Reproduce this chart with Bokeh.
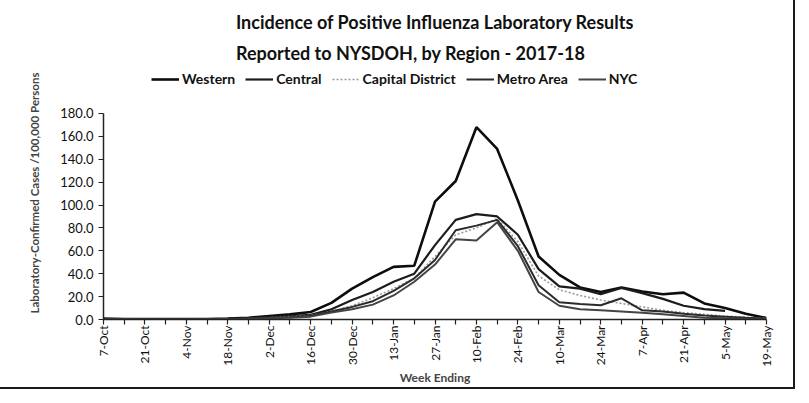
import math
from bokeh.plotting import figure
from bokeh.models import Range1d, FixedTicker, Legend, LegendItem
from bokeh.embed import file_html
from bokeh.resources import INLINE

nan = float("nan")

weeks = ["7-Oct", "14-Oct", "21-Oct", "28-Oct", "4-Nov", "11-Nov", "18-Nov", "25-Nov",
         "2-Dec", "9-Dec", "16-Dec", "23-Dec", "30-Dec", "6-Jan", "13-Jan", "20-Jan",
         "27-Jan", "3-Feb", "10-Feb", "17-Feb", "24-Feb", "3-Mar", "10-Mar", "17-Mar",
         "24-Mar", "31-Mar", "7-Apr", "14-Apr", "21-Apr", "28-Apr", "5-May", "12-May", "19-May"]

western = [0.8, 0.5, 0.4, 0.3, 0.3, 0.5, 0.8, 1.5, 3.0, 4.5, 6.5, 14.5, 27.0, 37.0, 46.0, 47.0,
           103.0, 121.0, 168.0, 149.0, 104.0, 55.0, 39.0, 28.0, 24.0, 28.0, 24.5, 22.0, 23.5,
           14.0, 10.0, 5.0, 1.2]
central = [0.3, 0.3, 0.2, 0.2, 0.3, 0.4, 0.6, 1.0, 2.0, 3.0, 4.0, 9.0, 17.0, 24.0, 33.0, 40.0,
           65.0, 87.0, 92.0, 90.0, 74.0, 44.0, 29.0, 27.0, 22.0, 27.5, 23.0, 18.0, 12.0,
           9.0, 7.5, nan, nan]
capital = [0.2, 0.2, 0.2, 0.2, 0.2, 0.3, 0.5, 0.8, 1.5, 2.5, 3.5, 7.0, 12.0, 19.0, 27.0, 36.0,
           55.0, 74.0, 80.0, 88.0, 68.0, 38.0, 26.0, 21.0, 17.0, 14.0, 11.0, 8.0, 6.0,
           4.5, 3.0, 2.0, 1.0]
metro = [0.3, 0.2, 0.2, 0.2, 0.2, 0.3, 0.5, 0.8, 1.5, 2.0, 3.0, 7.0, 11.0, 16.0, 25.0, 36.0,
         52.0, 78.0, 82.0, 87.0, 64.0, 30.0, 15.0, 13.5, 12.5, 18.5, 8.0, 7.0, 5.0,
         3.5, 2.5, 1.5, 0.8]
nyc = [0.2, 0.2, 0.1, 0.1, 0.1, 0.2, 0.3, 0.5, 1.0, 1.5, 2.5, 6.0, 9.0, 13.0, 21.0, 33.0,
       48.0, 70.0, 69.0, 85.0, 60.0, 24.0, 12.0, 9.0, 8.0, 7.0, 6.0, 4.5, 3.0,
       1.5, 1.0, 0.5, 0.3]

series_names = ["Western", "Central", "Capital District", "Metro Area", "NYC"]
title_lines = ["Incidence of Positive Influenza Laboratory Results",
               "Reported to NYSDOH, by Region - 2017-18"]
y_ticks = [0, 20, 40, 60, 80, 100, 120, 140, 160, 180]
Y_MAX = 180
Y_TOP = 221  # headroom above the y axis for the legend row

FONT = "Lato"
x = list(range(len(weeks)))

p = figure(width=793, height=387, output_backend="svg", toolbar_location=None,
           x_range=Range1d(0, len(weeks) - 1), y_range=Range1d(0, Y_TOP),
           title="\n".join(title_lines),
           min_border_left=103, min_border_right=27, min_border_top=66, min_border_bottom=66)
p.styles = {"outline": "2px solid #1a1a1a", "outline-offset": "0px"}

p.title.align = "center"
p.title.text_font = FONT
p.title.text_font_size = "18px"
p.title.text_font_style = "bold"
p.title.text_color = "#111111"
p.title.text_line_height = 1.42
p.title.standoff = 4

p.xgrid.visible = False
p.ygrid.visible = False
p.outline_line_color = None
p.background_fill_color = "white"
p.border_fill_color = "white"

styles = [
    dict(color="#0d0d0d", line_width=2.6),
    dict(color="#1c1c1c", line_width=2.2),
    dict(color="#9a9a9a", line_width=1.6, line_dash="2 2"),
    dict(color="#2b2b2b", line_width=2.0),
    dict(color="#444444", line_width=2.0),
]
renderers = []
for data, st in zip([western, central, capital, metro, nyc], styles):
    r = p.line(x, data, **st)
    renderers.append(r)

legend = Legend(items=[LegendItem(label=n, renderers=[r]) for n, r in zip(series_names, renderers)],
                orientation="horizontal", location=(46, 230),
                label_text_font=FONT, label_text_font_size="14px", label_text_font_style="bold",
                label_text_color="#111111", glyph_width=28, glyph_height=12, spacing=10,
                label_standoff=3, border_line_alpha=0, background_fill_alpha=0, padding=2, margin=0)
p.add_layout(legend, "center")

# axes
p.xaxis.ticker = FixedTicker(ticks=x)
p.xaxis.major_label_overrides = {i: (w if i % 2 == 0 else "") for i, w in enumerate(weeks)}
p.xaxis.major_label_orientation = math.pi / 2
p.xaxis.minor_tick_line_color = None
p.xaxis.major_tick_out = 5
p.xaxis.major_tick_in = 0
p.xaxis.axis_label = "Week Ending"
p.xaxis.axis_label_text_font = FONT
p.xaxis.axis_label_text_font_size = "12px"
p.xaxis.axis_label_text_font_style = "bold"
p.xaxis.axis_label_standoff = 0
p.xaxis.major_label_text_font = FONT
p.xaxis.major_label_text_font_size = "12px"
p.xaxis.major_label_text_color = "#111111"
p.xaxis.major_label_standoff = 1

p.yaxis.ticker = FixedTicker(ticks=y_ticks)
p.yaxis.bounds = (0, Y_MAX)
p.yaxis.major_label_overrides = {v: f"{v:.1f}" for v in y_ticks}
p.yaxis.minor_tick_line_color = None
p.yaxis.major_tick_out = 5
p.yaxis.major_tick_in = 0
p.yaxis.axis_label = "Laboratory-Confirmed Cases /100,000 Persons"
p.yaxis.axis_label_text_font = FONT
p.yaxis.axis_label_text_font_size = "11.5px"
p.yaxis.axis_label_text_font_style = "bold"
p.yaxis.axis_label_standoff = 16
p.yaxis.major_label_text_font = FONT
p.yaxis.major_label_text_font_size = "13px"
p.yaxis.major_label_text_color = "#111111"

for ax in (p.xaxis, p.yaxis):
    ax.axis_line_color = "#222222"
    ax.axis_line_width = 1.5
    ax.major_tick_line_color = "#222222"
    ax.major_tick_line_width = 1.2

open("out.html", "w").write(file_html(p, INLINE))
